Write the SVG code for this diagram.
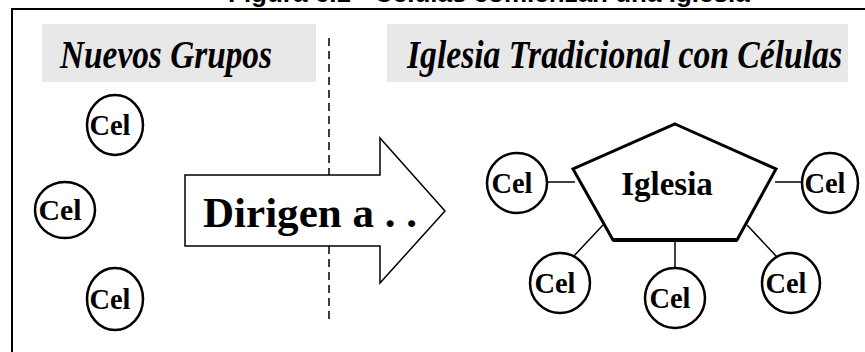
<svg xmlns="http://www.w3.org/2000/svg" width="865" height="352" viewBox="0 0 865 352">
<style>
.title{font-family:"Liberation Sans",Arial,sans-serif;font-weight:bold;font-size:26px;fill:#000}
.hdr{font-family:"Liberation Serif","Times New Roman",serif;font-weight:bold;font-style:italic;font-size:41px;fill:#000}
.band{fill:#e8e8e8}
.cel ellipse{fill:#fff;stroke:#000;stroke-width:2.5}
.cel text{font-family:"Liberation Serif","Times New Roman",serif;font-weight:bold;font-size:30px;text-anchor:middle;fill:#000}
.conn line{stroke:#000;stroke-width:1.5}
</style>
<rect width="865" height="352" fill="#fff"/>
<text class="title" x="228" y="2">Figura 6.1 - Células comienzan una Iglesia</text>
<path d="M12,352 V9 H865" fill="none" stroke="#000" stroke-width="2"/>
<g id="hdr-left">
<rect class="band" x="42" y="24" width="274" height="58"/>
<text class="hdr" x="60" y="68" textLength="212" lengthAdjust="spacingAndGlyphs">Nuevos Grupos</text>
</g>
<g id="hdr-right">
<rect class="band" x="387" y="24" width="461" height="58"/>
<text class="hdr" x="407" y="68" textLength="435" lengthAdjust="spacingAndGlyphs">Iglesia Tradicional con Células</text>
</g>
<line id="divider" x1="329" y1="38" x2="329" y2="323" stroke="#000" stroke-width="1.5" stroke-dasharray="8,5"/>
<g id="arrow">
<polygon points="185,175 380,175 380,138 445,211 380,283 380,246 185,246" fill="#fff" stroke="#000" stroke-width="1.5"/>
<text x="203" y="227" font-family="Liberation Serif,'Times New Roman',serif" font-weight="bold" font-size="42" textLength="214" lengthAdjust="spacingAndGlyphs">Dirigen a . .</text>
</g>
<g id="connectors" class="conn">
<line x1="547" y1="182" x2="575" y2="182"/>
<line x1="775" y1="182" x2="803" y2="182"/>
<line x1="603" y1="225" x2="573" y2="257"/>
<line x1="675" y1="240" x2="675" y2="268"/>
<line x1="747" y1="225" x2="777" y2="257"/>
</g>
<g id="iglesia">
<polygon points="675,124 776,169 737,240 613,240 573,169" fill="#fff" stroke="#000" stroke-width="3" stroke-linejoin="miter"/>
<line x1="613" y1="240" x2="737" y2="240" stroke="#000" stroke-width="4"/>
<text x="667" y="195" font-family="Liberation Serif,'Times New Roman',serif" font-weight="bold" font-size="33" text-anchor="middle">Iglesia</text>
</g>
<g id="cel-l1" class="cel"><ellipse cx="115" cy="125" rx="28" ry="30"/><text x="110" y="135" textLength="41" lengthAdjust="spacingAndGlyphs">Cel</text></g>
<g id="cel-l2" class="cel"><ellipse cx="65" cy="210" rx="30" ry="28"/><text x="60" y="220" textLength="43" lengthAdjust="spacingAndGlyphs">Cel</text></g>
<g id="cel-l3" class="cel"><ellipse cx="115" cy="299" rx="28" ry="31"/><text x="110" y="309" textLength="41" lengthAdjust="spacingAndGlyphs">Cel</text></g>
<g id="cel-r1" class="cel"><ellipse cx="517" cy="183" rx="30" ry="30"/><text x="512" y="193" textLength="41" lengthAdjust="spacingAndGlyphs">Cel</text></g>
<g id="cel-r2" class="cel"><ellipse cx="830" cy="183" rx="28" ry="30"/><text x="825" y="193" textLength="41" lengthAdjust="spacingAndGlyphs">Cel</text></g>
<g id="cel-r3" class="cel"><ellipse cx="560" cy="283" rx="30" ry="30"/><text x="555" y="293" textLength="41" lengthAdjust="spacingAndGlyphs">Cel</text></g>
<g id="cel-r4" class="cel"><ellipse cx="675" cy="298" rx="30" ry="30"/><text x="670" y="308" textLength="41" lengthAdjust="spacingAndGlyphs">Cel</text></g>
<g id="cel-r5" class="cel"><ellipse cx="791" cy="283" rx="29" ry="30"/><text x="786" y="293" textLength="41" lengthAdjust="spacingAndGlyphs">Cel</text></g>
</svg>
